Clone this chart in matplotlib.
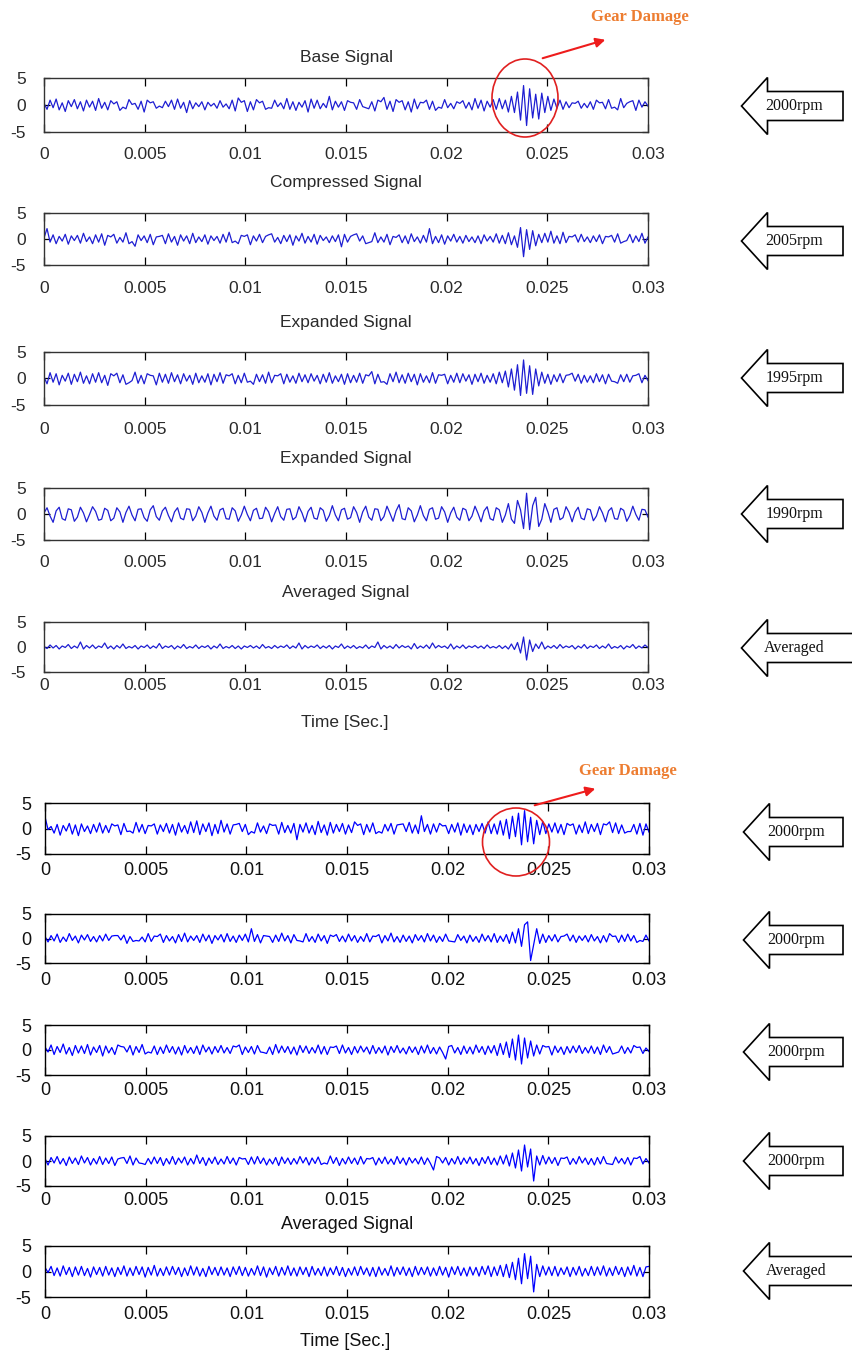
import numpy as np
import matplotlib.pyplot as plt
from matplotlib.patches import Polygon, Ellipse, FancyArrowPatch

W, H = 852, 1355
T_END = 0.03

# ---- signals (200 samples each over 0..0.03 s) ----
base_sig = [
    0.3, -0.8, 0.9, -0.5, 1.1, -0.9, 0.4, -1.2, 0.8, -0.3, 1.0, -0.7, 0.6, -1.1, 0.9, -0.4, 0.7, -1.0, 1.2, -0.6,
    0.5, -0.9, 0.8, 0.2, 0.6, -1.0, -0.4, -0.7, 1.0, 0.1, 0.3, -0.8, 0.7, -1.3, 0.9, 0.4, 0.6, -0.6, -0.2, -0.5,
    0.7, -0.3, 0.9, -0.8, 1.1, -0.6, 0.5, -1.4, 0.8, -0.7, 0.4, -0.3, 0.6, -0.9, 0.5, -0.2, 0.3, -0.6, 0.8, -0.4,
    0.2, -0.7, 0.9, -1.1, 1.3, 0.5, 0.8, -1.2, 0.6, -0.9, 1.0, 0.4, 0.7, -0.8, -0.5, -0.6, 0.9, -0.3, 0.4, -0.7,
    1.2, -0.8, 0.6, -1.0, 0.5, -0.4, 0.8, -1.3, 1.1, -0.6, 0.9, -0.7, 0.3, -0.5, 1.6, -0.9, 0.7, -0.4, 0.6, -1.0,
    0.8, 0.5, 0.4, -0.8, 1.0, -0.3, -0.5, -0.7, 0.6, -1.1, 0.9, 0.6, 1.4, -0.8, 0.7, -1.2, 1.0, 0.5, 0.8, -0.9,
    0.6, -1.3, 1.1, -0.7, 0.5, 0.4, 0.9, -0.8, 0.7, -1.0, -0.4, -0.6, 1.0, -0.5, 0.3, -0.7, 0.6, 0.3, 0.8, -0.6,
    0.5, -0.9, 1.2, -0.6, 0.9, -1.1, 0.7, -0.4, 1.0, -0.8, 1.2, -0.7, 0.9, -1.3, 1.6, -1.4, 2.4, -2.8, 3.6, -3.8,
    3.0, -2.4, 2.0, -2.6, 2.2, -1.4, 1.6, -1.0, 1.1, -0.6, 0.9, -0.8, 0.6, -0.5, 0.4, 0.3, 0.7, -0.6, 0.3, -0.5,
    0.6, -0.8, 0.9, 0.4, 0.5, -0.7, 1.0, -0.6, -0.4, -0.9, 1.2, -0.5, 0.3, 0.6, 0.8, -1.0, 0.9, -0.4, 0.6, -0.2,
]
compressed_sig = [
    0.2, 2.0, -0.6, 0.8, -0.9, 0.5, -0.4, 0.9, -1.0, 0.6, -0.3, 0.7, -0.8, 1.1, -0.5, 0.4, -0.9, 0.8, -0.6, 1.0,
    -1.2, 0.7, 0.4, 0.9, -0.8, 0.3, -0.6, 1.2, -0.9, -0.5, -1.4, 0.8, -0.3, 0.6, -0.7, 0.9, -1.1, 0.4, 0.5, 0.7,
    -0.9, 1.0, -0.6, 0.5, -1.2, 0.8, -0.4, 0.6, -0.9, 1.1, -0.7, 0.4, -0.5, 0.8, -1.0, 0.6, -0.3, 0.5, -0.8, 0.9,
    -0.6, 1.3, -0.7, -0.4, -0.9, 0.7, 0.5, 0.8, -1.1, 0.6, -0.4, 0.9, -0.7, 0.5, 0.8, 1.0, -0.6, 0.3, -0.9, 0.7,
    -0.5, 0.8, -1.2, 0.6, -0.4, 1.1, -0.8, 0.5, -0.6, 0.9, -1.0, 0.7, -0.3, 0.4, -0.7, 0.6, -0.5, 0.8, -1.5, 0.9,
    -0.6, 0.5, 0.8, 1.0, -0.4, 0.6, -0.9, -0.7, -0.5, 1.2, -0.7, 0.4, -0.6, 0.9, -1.1, 0.5, 0.3, 0.8, -0.7, 0.6,
    -0.9, 1.0, -0.5, 0.4, -0.8, 0.7, -0.6, 2.0, -0.9, 0.5, -0.7, 0.8, -1.0, 0.6, -0.4, 0.9, -0.6, 0.5, -0.8, 0.7,
    -0.5, 0.4, -0.7, 0.6, -0.9, 0.8, -0.4, 0.5, -0.6, 1.0, -0.8, 0.7, -0.9, 1.2, -1.1, 0.6, -1.6, 2.2, -3.4, 1.8,
    -2.0, 1.6, -1.3, 0.9, -0.7, 1.1, -0.6, 1.5, -0.8, 0.6, -0.9, 1.3, -0.7, 0.5, 0.4, 0.8, -0.6, 0.9, -0.5, 0.4,
    -0.7, 0.6, -0.5, 0.8, -0.9, 0.5, 0.4, 0.7, -0.6, 1.0, -0.8, -0.5, -0.3, 0.9, -0.7, 0.6, -0.5, 1.1, -0.8, 0.4,
]
expanded_1995 = [
    0.3, -1.0, 1.1, -0.7, 0.9, -1.2, 0.6, -0.5, 1.0, -1.1, 0.8, -0.6, 1.2, -0.9, 0.5, -1.0, 0.9, -0.7, 1.1, -0.8,
    0.6, -1.3, 0.9, 0.5, 1.0, -0.8, 0.7, -1.1, -0.8, -0.4, 1.2, -0.9, 0.6, -1.0, 0.9, 0.6, 0.5, -1.2, 1.0, -0.7,
    0.8, -0.9, 1.1, -0.6, 0.7, -1.0, 0.9, -0.5, 0.6, -1.1, 1.0, -0.8, 0.5, -0.7, 0.9, -1.2, 0.8, -0.6, 1.1, -0.9,
    0.7, 0.5, 0.9, -1.0, 0.6, -0.8, 1.0, -0.7, -0.5, -1.1, 0.8, -0.6, 0.7, -0.9, 1.2, -0.8, 0.6, 0.5, 0.9, -1.0,
    0.8, -0.7, 0.5, -0.9, 1.0, -0.6, 0.7, -0.8, 0.9, -0.5, 0.6, -1.0, 0.8, -0.7, 1.1, -0.9, 0.5, -0.6, 0.8, -1.1,
    0.9, -0.8, 0.6, -0.7, 1.0, -0.9, 0.7, 0.5, 1.3, -1.0, 0.8, -0.7, -0.6, -1.1, 0.9, -0.6, 1.2, -0.8, 0.7, -0.9,
    1.0, -0.6, 0.8, -1.2, 0.9, -0.7, 0.5, -0.8, 1.1, -0.9, 0.7, 0.6, 0.8, -1.0, 0.6, -0.7, 1.0, -0.8, 0.9, -0.5,
    0.7, -1.1, 0.8, -0.6, 1.0, -0.9, 0.6, -0.7, 0.9, -1.0, 1.2, -0.8, 1.4, -1.6, 1.8, -2.2, 2.6, -3.2, 3.5, -2.8,
    2.4, -3.0, 1.8, -1.4, 1.2, -0.9, 0.8, -1.1, 0.7, -0.6, 0.9, -0.8, 0.6, 0.7, 1.0, -0.5, 0.8, -0.9, 0.6, -0.7,
    0.5, -0.8, 0.9, -0.6, 0.7, -1.0, 0.8, -0.5, -0.6, -0.9, 0.7, -0.6, 0.8, -0.7, 0.5, 0.6, 0.9, -0.8, 0.6, -0.4,
]
expanded_1990 = [
    0.2, 1.2, -0.4, -1.6, 0.6, 1.3, -0.9, -1.2, 1.0, 0.8, -1.4, -0.6, 1.3, 0.2, -1.5, -0.1, 1.4, 0.5, -1.2, -1.0,
    1.1, 0.7, -1.3, -0.8, 1.2, 0.4, -1.6, 0.3, 1.5, -0.2, -1.3, 0.9, 1.0, -0.7, -1.4, 0.8, 1.6, -0.5, -1.2, 0.6,
    1.3, -0.3, -1.5, 0.4, 1.2, -0.8, -1.1, 1.0, 0.9, -1.3, -0.4, 1.4, 0.3, -1.6, 0.2, 1.5, -0.4, -1.2, 0.8, 1.1,
    -0.9, -1.0, 1.2, 0.6, -1.4, -0.2, 1.5, -0.1, -1.3, 0.7, 1.1, -0.9, -0.8, 1.3, 0.4, -1.5, 0.1, 1.4, -0.5, -1.2,
    0.9, 1.0, -1.1, -0.6, 1.4, 0.2, -1.5, 0.5, 1.3, -0.8, -1.0, 1.2, 0.7, -1.4, -0.3, 1.6, -0.2, -1.3, 0.8, 1.1,
    -1.0, -0.7, 1.4, 0.3, -1.6, 0.4, 1.5, -0.6, -1.2, 1.0, 0.9, -1.3, -0.5, 1.5, 0.1, -1.4, 0.6, 1.8, -0.9, -1.1,
    1.2, 0.6, -1.5, -0.2, 1.6, -0.3, -1.3, 0.9, 1.2, -1.0, -0.8, 1.4, 0.4, -1.6, 0.2, 1.3, -0.6, -1.2, 1.1, 0.8,
    -1.3, -0.4, 1.5, 0.1, -1.5, 0.6, 1.4, -0.9, -1.2, 1.2, 0.8, -1.6, -0.2, 2.0, -1.0, -1.8, 2.6, 0.8, -2.8, 4.0,
    -3.0, 1.6, 3.2, -2.4, -1.0, 2.0, 0.4, -1.6, 0.9, 1.2, -1.1, -0.7, 1.4, 0.3, -1.5, 0.4, 1.3, -0.8, -1.1, 1.0,
    0.8, -1.3, -0.4, 1.4, 0.2, -1.5, 0.6, 1.2, -0.9, -1.0, 1.1, 0.7, -1.4, -0.3, 1.5, -0.1, -1.2, 0.9, 0.8, -0.6,
]
averaged_a = [
    0.1, -0.3, 0.4, -0.2, 0.3, -0.4, 0.2, -0.1, 0.5, -0.3, 0.2, -0.2, 1.0, -0.4, 0.3, -0.2, 0.4, -0.3, 0.2, -0.1,
    0.8, -0.3, 0.2, -0.4, 0.3, -0.2, 0.6, -0.3, 0.1, -0.2, 0.3, -0.4, 0.2, -0.1, 0.4, -0.3, 0.2, -0.2, 0.7, -0.3,
    0.2, -0.1, 0.3, -0.4, 0.2, -0.2, 0.5, -0.3, 0.1, -0.2, 0.4, -0.3, 0.2, -0.1, 0.3, -0.4, 0.2, -0.2, 0.6, -0.3,
    0.1, -0.2, 0.3, -0.3, 0.2, -0.4, 0.2, -0.1, 0.3, -0.2, 0.2, -0.3, 0.5, -0.2, 0.1, -0.3, 0.3, -0.2, 0.2, -0.1,
    0.4, -0.3, 0.2, -0.2, 0.8, -0.4, 0.3, -0.2, 0.2, -0.1, 0.4, -0.3, 0.2, -0.2, 0.3, -0.4, 0.2, -0.1, 0.6, -0.3,
    0.2, -0.2, 0.3, -0.3, 0.1, -0.2, 0.4, -0.3, 0.2, -0.1, 1.0, -0.4, 0.3, -0.2, 0.2, -0.3, 0.5, -0.2, 0.3, -0.1,
    0.2, -0.4, 0.7, -0.3, 0.2, -0.2, 0.4, -0.3, 0.8, -0.2, 0.3, -0.1, 0.2, -0.3, 0.6, -0.4, 0.2, -0.2, 0.4, -0.3,
    0.2, -0.1, 0.3, -0.2, 0.2, -0.3, 0.4, -0.2, 0.1, -0.2, 0.3, -0.3, 0.2, -0.4, 0.6, -0.5, 0.9, -1.2, 2.0, -2.6,
    1.4, -0.9, 0.6, -0.3, 1.0, -0.4, 0.2, -0.2, 0.3, -0.3, 0.5, -0.2, 0.2, -0.1, 0.3, -0.4, 0.2, -0.2, 0.5, -0.3,
    0.2, -0.1, 0.4, -0.3, 0.2, -0.2, 0.6, -0.3, 0.1, -0.2, 0.3, -0.4, 0.2, -0.1, 0.5, -0.3, 0.2, -0.2, 0.4, -0.1,
]
run_a = [
    2.3, -0.2, 0.4, -0.9, 0.8, -1.3, 0.6, -0.5, 1.0, -1.1, 0.7, -1.4, 0.9, -0.6, 0.5, -1.0, 0.8, -0.7, 1.1, -0.9,
    0.6, -0.8, 0.9, 0.5, 0.7, -1.2, 1.0, -0.6, -0.5, -0.9, 1.2, -0.7, 0.8, -1.0, 0.6, 0.5, 0.9, -1.1, 0.7, -0.6,
    1.0, -0.9, 0.8, -1.3, 1.1, -0.7, 0.6, -1.0, 1.3, -0.8, 1.5, -1.2, 0.9, -0.6, 1.1, -1.4, 0.8, -1.0, 1.6, -0.7,
    0.9, -1.1, 0.7, 0.8, 1.0, -0.6, 0.8, -1.2, -0.6, -0.9, 1.1, -0.7, 0.5, -1.0, 0.9, 0.6, 0.7, -1.1, 1.2, -0.8,
    0.6, -0.9, 1.0, -2.2, 0.8, -0.7, 1.1, -0.9, 0.6, -1.2, 1.4, -0.8, 0.7, -1.3, 1.2, -0.9, 0.8, -0.6, 1.0, -1.1,
    0.7, -0.8, 1.3, 0.6, 0.9, -1.2, 0.8, -0.7, 1.1, -1.0, -0.6, -0.9, 0.8, -0.5, 1.0, -1.1, 0.7, 0.8, 0.9, -0.6,
    1.2, -0.9, 0.7, -1.0, 2.5, -0.6, 0.8, -1.1, 0.9, -0.7, 1.0, 0.5, 0.6, -1.0, 0.8, -0.7, 1.1, -1.3, 0.9, -0.8,
    0.7, -1.2, 0.8, -0.6, 1.0, -0.9, 1.3, -1.0, 0.9, -1.1, 1.5, -1.3, 1.8, -2.0, 2.4, -1.6, 3.0, -3.2, 3.5, -2.6,
    2.2, -3.0, 1.6, -1.2, 1.4, -1.0, 0.9, -0.7, 1.1, -0.9, 0.8, -1.2, 1.0, 0.6, 0.9, -1.1, 0.7, -0.8, 1.3, -1.0,
    0.8, -0.6, 1.0, -1.2, 0.9, 0.7, 1.3, -0.8, 1.1, -1.0, 0.7, -0.9, -0.6, -0.6, 0.8, -1.1, 1.0, -1.3, 0.9, -0.7,
]
run_b = [
    0.4, -0.7, 0.6, -0.5, 0.9, -0.8, 0.3, -0.6, 1.0, -0.4, 0.5, -0.9, 0.7, -0.3, 0.8, -0.6, 0.4, -0.7, 0.6, -0.5,
    0.9, -0.4, 0.5, 0.6, 0.6, -0.3, 0.7, -1.0, 0.4, -0.6, -0.4, -0.5, 0.3, -0.7, 1.0, -0.6, 0.5, 0.4, 0.9, -0.8,
    0.6, -0.5, 0.4, -0.9, 0.8, -0.6, 1.1, -0.7, 0.5, -0.4, 0.6, -0.8, 0.9, -0.5, 0.7, -1.0, 0.6, -0.3, 0.8, -0.7,
    1.0, -0.6, 0.5, -0.8, 0.7, -0.4, 0.9, -0.7, 2.0, -0.6, 0.8, -0.9, 0.6, 0.5, 0.4, -0.8, 0.7, -0.6, 1.1, -0.5,
    0.6, -0.9, 0.8, -0.4, -0.5, -0.7, 1.0, -0.6, 0.4, -0.8, 0.9, -0.5, 0.6, -1.0, 0.7, 0.4, 0.8, -0.6, 0.5, -0.7,
    0.9, -0.5, 0.6, -0.8, 0.4, -0.6, 1.0, -0.7, 0.5, 0.4, 0.8, -0.9, 0.6, -0.5, 1.1, -0.7, 0.4, -0.8, 0.7, -0.6,
    0.5, -0.9, 0.8, -0.4, 0.6, -0.7, 1.0, -0.5, 0.7, -0.8, 0.4, -0.6, 0.9, -0.5, -0.6, -0.7, 0.8, -0.4, 0.5, -0.9,
    0.7, -0.6, 0.4, -0.8, 0.9, -0.5, 0.6, -0.7, 1.0, -0.8, 0.5, -0.6, 0.8, -1.0, 1.3, -0.9, 2.0, -1.6, 2.8, 3.4,
    -4.5, -1.2, 2.0, -1.0, 0.9, -0.8, 0.6, -0.5, 0.8, -0.7, 0.4, 0.5, 0.9, -0.5, 0.7, -0.8, 0.5, -0.4, 0.6, -0.7,
    0.8, -0.5, 0.4, -0.9, 0.6, -0.7, 1.0, 0.4, 0.5, -0.8, 0.7, -0.6, 0.9, -0.5, 0.6, -0.8, -0.4, -0.6, 0.7, -0.5,
]
run_c = [
    0.6, -0.4, 1.0, -0.9, 0.7, -0.5, 1.2, -0.8, 0.5, -1.1, 0.9, -0.6, 0.8, -0.7, 1.1, -1.0, 0.6, -0.5, 0.9, -1.2,
    0.8, -0.6, 0.5, -0.9, 1.0, 0.7, 0.6, -0.4, 0.9, -1.0, 0.7, -0.5, 1.1, -0.8, -0.4, -0.6, 0.8, -0.9, 0.6, -0.7,
    1.0, -0.5, 0.7, -0.8, 0.6, -1.0, 0.9, -0.6, 0.5, -0.7, 0.8, -0.9, 1.0, -0.4, 0.6, -0.8, 0.7, -0.5, 0.9, -0.6,
    0.5, -0.7, 0.8, 0.6, 1.0, -0.9, 0.6, -0.5, 0.7, -0.8, 0.9, -0.4, -0.5, -0.7, 0.6, -0.9, 1.1, -0.6, 0.8, -0.5,
    0.7, -0.8, 0.6, -1.0, 0.9, -0.5, 0.8, -0.7, 0.5, -0.6, 1.0, -0.8, 0.7, -0.9, 0.6, 0.5, 0.8, -0.7, 1.0, -0.6,
    0.5, -0.9, 0.7, -0.6, 0.8, -0.4, 0.6, -0.8, 0.9, -0.7, 0.5, -0.6, 0.8, -1.0, 0.7, -0.5, 0.9, -0.6, 0.4, -0.8,
    0.7, -0.5, 0.6, -0.9, 0.8, -0.6, 1.0, -0.7, 0.5, -0.8, 0.6, -0.5, -1.8, 0.7, 0.9, -0.6, 0.5, -0.9, 0.8, -0.7,
    0.6, -0.8, 1.0, -0.5, 0.7, -0.9, 0.8, -0.6, 0.9, -1.1, 1.3, -0.9, 1.6, -1.5, 2.2, -2.0, 3.0, -2.8, 2.4, -1.6,
    1.8, -1.2, 1.0, -0.8, 0.9, 0.6, 0.7, -1.0, 0.8, -0.5, 0.6, -0.9, 0.7, -0.6, 0.8, -0.5, 0.9, -0.7, 0.5, -0.6,
    0.8, -0.7, 0.6, -0.9, 1.0, -0.5, 0.7, -0.8, -0.6, -0.4, 0.8, -0.7, 0.5, -0.6, 0.9, 0.5, 0.6, -0.7, 0.4, -0.3,
]
run_d = [
    0.5, -0.8, 0.7, -0.4, 0.9, -0.6, 0.5, -0.9, 0.8, -0.5, 0.6, -0.7, 1.0, -0.4, 0.7, -0.8, 0.5, -0.6, 0.9, -0.7,
    0.6, -0.5, 0.8, -0.9, 0.4, 0.6, 0.7, -0.5, 1.0, -0.8, 0.6, -0.4, -0.5, -0.7, 0.5, -0.6, 0.8, -0.5, 0.7, -0.9,
    0.5, -0.6, 0.9, -0.7, 0.6, -0.4, 0.8, -0.8, 0.5, -0.6, 1.2, -0.5, 0.7, -0.9, 0.6, -0.5, 0.8, -0.7, 0.4, -0.6,
    0.9, -0.5, 0.6, -0.8, 0.7, 0.4, 0.5, -0.7, 0.8, -0.6, 0.9, -0.5, 0.6, -0.8, 0.4, -0.6, 0.7, -0.9, 0.8, -0.5,
    0.6, -0.7, 0.5, -0.6, 0.9, -0.4, 0.7, -0.8, 0.6, -0.5, 0.8, -0.7, -0.4, -0.6, 1.0, -0.5, 0.7, -0.9, 0.5, -0.6,
    0.8, -0.5, 0.6, -0.7, 0.9, -0.6, 0.5, 0.4, 0.7, -0.8, 0.6, -0.5, 0.8, -0.6, 0.4, -0.7, 0.9, -0.5, 0.6, -0.8,
    0.7, -0.4, 0.5, -0.6, 0.8, -0.7, 0.6, -0.5, -1.8, 0.9, 0.6, -0.4, 0.7, -0.8, 0.5, -0.6, 0.9, -0.7, 0.6, -0.5,
    0.8, -0.6, 0.5, -0.9, 0.7, -0.5, 0.9, -0.7, 0.6, -0.8, 1.0, -0.6, 1.2, -1.0, 1.6, -1.4, 2.2, -2.0, 3.2, -1.2,
    2.4, -4.0, 1.0, -0.8, 1.1, -0.6, 0.8, -0.5, 0.7, -0.9, 0.6, 0.5, 0.8, -0.7, 0.5, -0.6, 0.9, -0.4, 0.6, -0.7,
    0.5, -0.8, 0.7, -0.6, 0.9, -0.5, -0.6, -0.7, 0.8, -0.4, 0.5, -0.6, 0.7, -0.8, 0.6, 0.5, 0.9, -0.6, 0.5, -0.4,
]
averaged_b = [
    0.8, -0.2, 1.0, -0.8, 0.7, -0.9, 1.1, -0.6, 0.8, -1.0, 0.9, -0.7, 1.0, -0.8, 0.6, -1.1, 0.9, -0.6, 0.8, -0.9,
    1.0, -0.7, 0.7, -1.0, 0.8, -0.6, 1.1, -0.9, 0.7, -0.8, 1.0, -0.6, 0.9, -1.1, 0.8, -0.7, 1.2, -0.9, 0.6, -0.8,
    0.9, -0.7, 1.0, -0.6, 0.8, -1.0, 0.7, -0.8, 1.1, -0.7, 0.9, -0.9, 0.6, -1.0, 1.0, -0.6, 0.8, -0.8, 0.9, -0.7,
    0.7, -1.0, 0.9, -0.6, 1.0, -0.8, 0.8, -0.9, 0.6, -0.7, 1.1, -0.8, 0.9, -1.1, 0.7, -0.6, 1.0, -0.9, 0.8, -0.7,
    1.1, -0.8, 0.7, -0.9, 0.9, -0.6, 0.8, -1.0, 1.0, -0.7, 0.6, -0.8, 0.9, -0.9, 0.7, -0.6, 1.0, -0.8, 0.8, -1.0,
    0.6, -0.7, 0.9, -0.8, 1.0, -0.6, 0.7, -0.9, 0.8, -1.0, 0.9, -0.7, 0.6, -0.8, 1.1, -0.9, 0.8, -0.6, 0.9, -0.8,
    0.7, -1.0, 1.0, -0.7, 0.8, -0.6, 0.9, -0.9, 0.7, -0.8, 1.0, -0.7, 0.8, -1.1, 0.9, -0.6, 1.0, -0.8, 0.7, -0.9,
    0.9, -0.7, 0.8, -0.9, 1.0, -0.6, 1.1, -1.0, 0.9, -0.8, 1.2, -1.0, 1.4, -1.2, 1.8, -1.6, 2.6, -2.4, 3.5, -1.4,
    3.0, -4.0, 1.4, -1.0, 1.1, -0.7, 0.9, -0.8, 1.0, -0.9, 0.7, -0.6, 0.9, -1.0, 0.8, -0.7, 1.0, -0.9, 0.6, -0.8,
    1.0, -0.8, 0.9, -0.7, 1.1, -0.9, 0.7, -0.8, 1.0, -0.6, 0.8, -1.0, 0.9, -0.7, 1.2, -0.9, 0.8, -1.0, 0.9, 1.0,
]

signals = [base_sig, compressed_sig, expanded_1995, expanded_1990, averaged_a,
           run_a, run_b, run_c, run_d, averaged_b]
titles = ["Base Signal", "Compressed Signal", "Expanded Signal", "Expanded Signal", "Averaged Signal",
          "", "", "", "", "Averaged Signal"]
side_labels = ["2000rpm", "2005rpm", "1995rpm", "1990rpm", "Averaged",
               "2000rpm", "2000rpm", "2000rpm", "2000rpm", "Averaged"]
xticks = [0, 0.005, 0.01, 0.015, 0.02, 0.025, 0.03]
xtick_labels = ["0", "0.005", "0.01", "0.015", "0.02", "0.025", "0.03"]
yticks = [-5, 0, 5]
ytick_labels = ["-5", "0", "5"]

# ---- layout in pixels: (left, top, right, bottom), title baseline, tick label pad ----
boxes = [(44, 78, 648, 132), (44, 213, 648, 265), (44, 352, 648, 405), (44, 488, 648, 540), (44, 622, 648, 672),
         (45, 803, 649, 854), (45, 914, 649, 963), (45, 1025, 649, 1075), (45, 1136, 649, 1186), (45, 1246, 649, 1297)]
title_base = [62, 187, 327, 463, 597, None, None, None, None, 1229]
xlab_pad = [15, 16, 17, 15, 6, 8, 9, 7, 6, 9]
arrow_y = [106, 241, 378, 514, 648, 832, 940, 1052, 1161, 1271]

fig = plt.figure(figsize=(W / 100, H / 100), dpi=100)
fig.patch.set_facecolor("white")
plt.rcParams["font.family"] = ["Liberation Sans", "DejaVu Sans"]

for i, sig in enumerate(signals):
    l, t, r, b = boxes[i]
    upper = i < 5
    ax = fig.add_axes([l / W, 1 - b / H, (r - l) / W, (b - t) / H])
    tt = np.linspace(0, T_END, len(sig))
    ax.plot(tt, sig, color="#1e1ed2" if upper else "#0000ff", lw=0.9)
    ax.set_xlim(0, T_END)
    ax.set_ylim(-5, 5)
    ax.set_xticks(xticks)
    ax.set_xticklabels(xtick_labels)
    ax.set_yticks(yticks)
    ax.set_yticklabels(ytick_labels)
    fs = 12.5 if upper else 13
    col = "#2a2a2a" if upper else "#111111"
    ax.tick_params(axis="x", direction="in", top=True, length=6, width=0.9,
                   pad=xlab_pad[i] * 0.72, labelsize=fs, labelcolor=col)
    ax.tick_params(axis="y", direction="in", right=True, length=4, width=0.9,
                   pad=(18 if upper else 14) * 0.72, labelsize=fs, labelcolor=col)
    for s in ax.spines.values():
        s.set_linewidth(1.0)
        s.set_color("#333333" if upper else "#000000")
    if titles[i]:
        ax.set_title(titles[i], fontsize=fs, color=col, pad=(t - title_base[i]) * 0.72)

# ---- annotation layer in pixel coordinates ----
ov = fig.add_axes([0, 0, 1, 1], facecolor="none")
ov.set_xlim(0, W)
ov.set_ylim(H, 0)
ov.axis("off")

ov.text(345, 722, "Time [Sec.]", fontsize=12.5, color="#2a2a2a", ha="center", va="center")
ov.text(345, 1341, "Time [Sec.]", fontsize=13, color="#111111", ha="center", va="center")

# block arrows pointing at each trace
for i, yc in enumerate(arrow_y):
    x0 = 741.5 if i < 5 else 743.5
    hw, hh, sh = 26, 28.5, 14.5
    xr = 880 if side_labels[i] == "Averaged" else 843
    pts = [(x0, yc), (x0 + hw, yc - hh), (x0 + hw, yc - sh), (xr, yc - sh),
           (xr, yc + sh), (x0 + hw, yc + sh), (x0 + hw, yc + hh)]
    ov.add_patch(Polygon(pts, closed=True, facecolor="white", edgecolor="black", lw=1.2))
    ov.text(x0 + 53, yc, side_labels[i], family=["Liberation Serif", "DejaVu Serif"],
            fontsize=11.5, ha="center", va="center", color="#111111")

# gear damage markers
for (cx, cy, ew, eh), (ax0, ay0, ax1, ay1), (tx, ty) in [
        ((525, 98, 66, 78), (540, 59, 608, 39), (640, 17)),
        ((516, 842, 67, 68), (532, 806, 598, 788), (628, 771))]:
    ov.add_patch(Ellipse((cx, cy), ew, eh, fill=False, edgecolor="#e02020", lw=1.2))
    ov.add_patch(FancyArrowPatch((ax0, ay0), (ax1, ay1), arrowstyle="-|>", mutation_scale=14,
                                 color="#ee1c1c", lw=1.5))
    ov.text(tx, ty, "Gear Damage", family=["Liberation Serif", "DejaVu Serif"], fontweight="bold",
            fontsize=12, color="#ed7d31", ha="center", va="center")

fig.savefig("out.png", dpi=100)
